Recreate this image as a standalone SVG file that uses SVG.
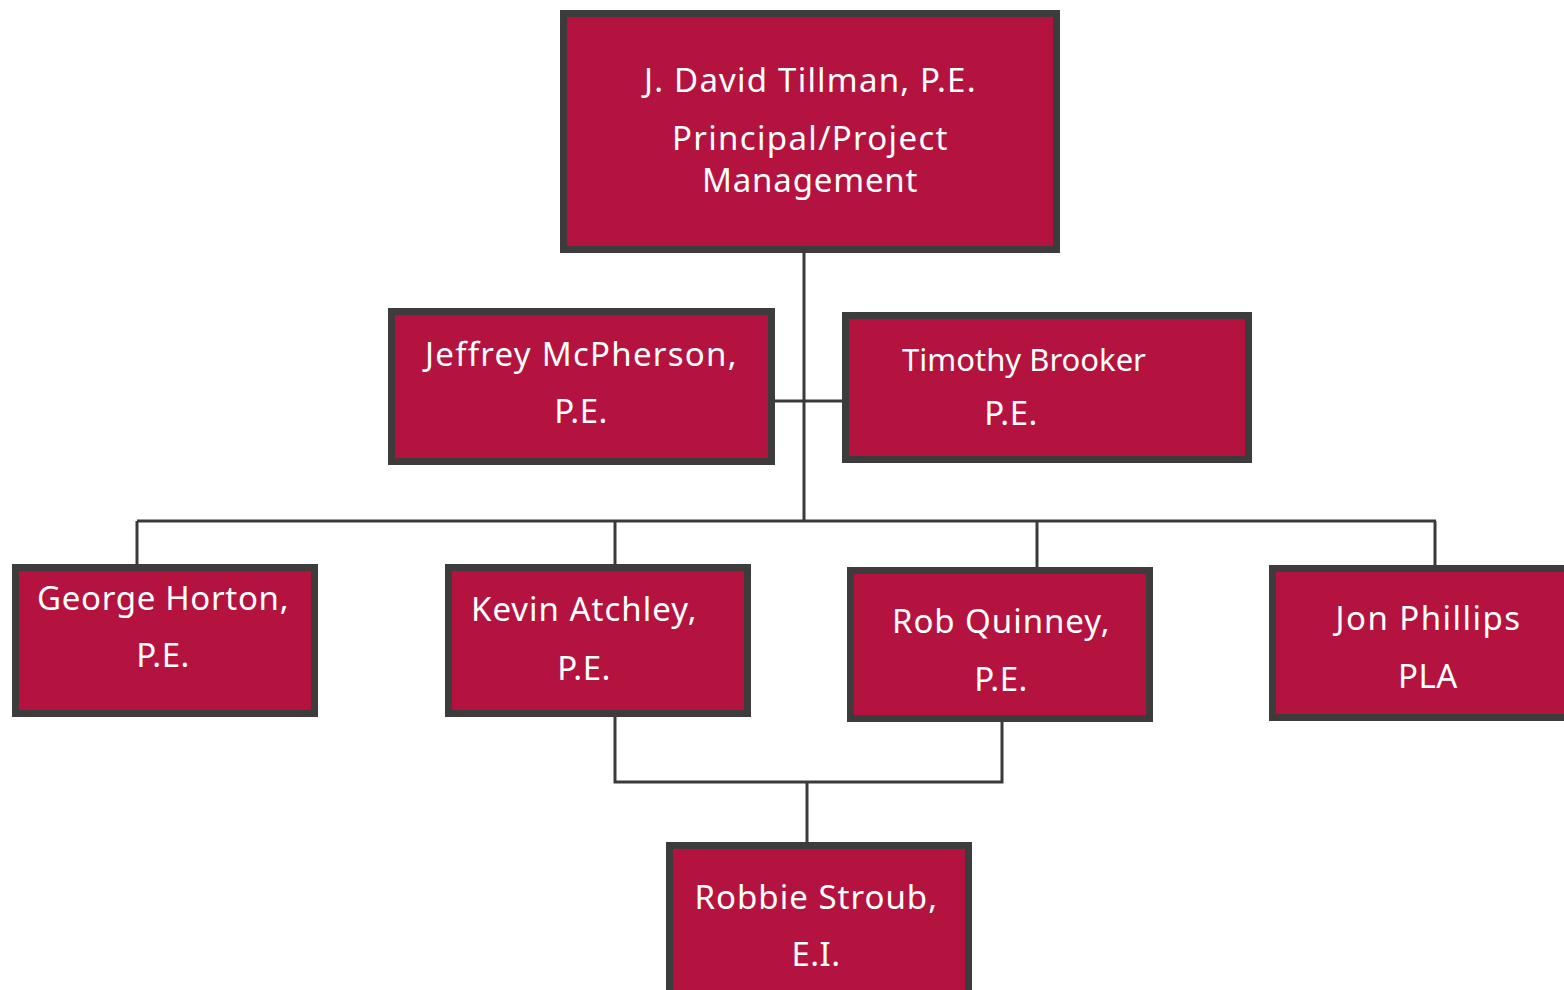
<svg xmlns="http://www.w3.org/2000/svg" width="1564" height="990" viewBox="0 0 1564 990">
<style>
.box{fill:#b5133f;stroke:#3d3b3c;stroke-width:7}
.t{fill:#ffffff;font-family:"Noto Sans","Open Sans",sans-serif;font-size:33px;text-anchor:middle;letter-spacing:0.5px}
.c{fill:none;stroke:#3a3a3a;stroke-width:3}
</style>
<rect width="1564" height="990" fill="#ffffff"/>
<g id="connectors">
<path class="c" d="M804 253 V522"/>
<path class="c" d="M775 401 H842"/>
<path class="c" d="M137 521 H1436"/>
<path class="c" d="M137 521 V564"/>
<path class="c" d="M615 521 V564"/>
<path class="c" d="M1037 521 V567"/>
<path class="c" d="M1435 521 V565"/>
<path class="c" d="M615 717 V782 H1002 V722"/>
<path class="c" d="M807 782 V842"/>
</g>
<g id="n-tillman">
<rect class="box" x="563.5" y="13.5" width="493" height="236"/>
<text class="t" x="810" y="92" textLength="332">J. David Tillman, P.E.</text>
<text class="t" x="810" y="150" textLength="276">Principal/Project</text>
<text class="t" x="810" y="192" textLength="216">Management</text>
</g>
<g id="n-mcpherson">
<rect class="box" x="391.5" y="311.5" width="380" height="150"/>
<text class="t" x="581" y="366" textLength="312">Jeffrey McPherson,</text>
<text class="t" x="581" y="423">P.E.</text>
</g>
<g id="n-brooker">
<rect class="box" x="845.5" y="315.5" width="403" height="144"/>
<text class="t" x="1024" y="371" style="letter-spacing:0;font-size:31px">Timothy Brooker</text>
<text class="t" x="1011" y="425">P.E.</text>
</g>
<g id="n-horton">
<rect class="box" x="15.5" y="567.5" width="299" height="146"/>
<text class="t" x="163" y="610" textLength="252">George Horton,</text>
<text class="t" x="163" y="667">P.E.</text>
</g>
<g id="n-atchley">
<rect class="box" x="448.5" y="567.5" width="299" height="146"/>
<text class="t" x="584" y="621" textLength="226">Kevin Atchley,</text>
<text class="t" x="584" y="680">P.E.</text>
</g>
<g id="n-quinney">
<rect class="box" x="850.5" y="570.5" width="299" height="148"/>
<text class="t" x="1001" y="633" textLength="218">Rob Quinney,</text>
<text class="t" x="1001" y="691">P.E.</text>
</g>
<g id="n-phillips">
<rect class="box" x="1272.5" y="568.5" width="300" height="149"/>
<text class="t" x="1428" y="630" textLength="185">Jon Phillips</text>
<text class="t" x="1428" y="688">PLA</text>
</g>
<g id="n-stroub">
<rect class="box" x="669.5" y="845.5" width="299" height="150"/>
<text class="t" x="816" y="909" textLength="243">Robbie Stroub,</text>
<text class="t" x="816" y="966">E.I.</text>
</g>
</svg>
